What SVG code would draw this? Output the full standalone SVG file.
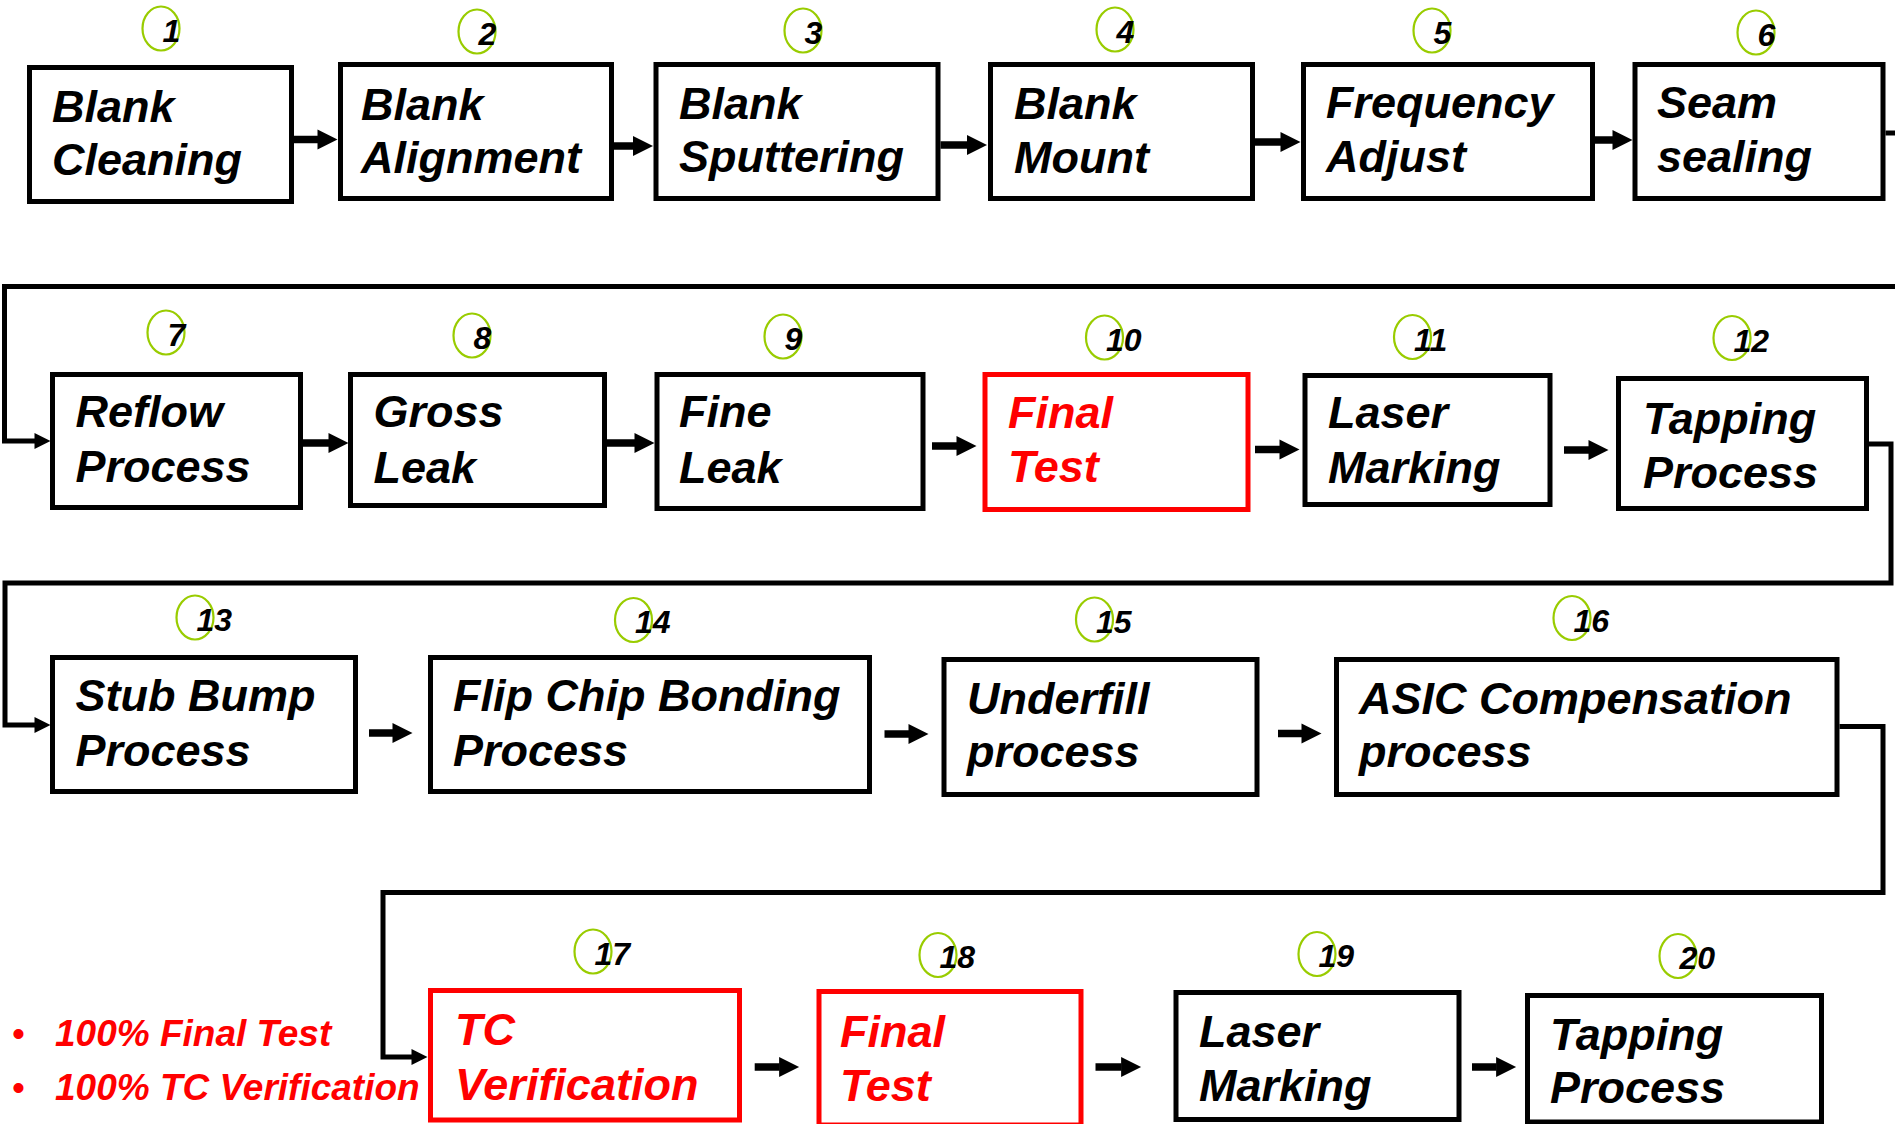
<svg xmlns="http://www.w3.org/2000/svg" width="1895" height="1124" viewBox="0 0 1895 1124">
<style>
.box{fill:#fff;stroke:#000;stroke-width:5}
.rbox{fill:#fff;stroke:#f00;stroke-width:5}
.t{font-family:"Liberation Sans",Arial,sans-serif;font-weight:bold;font-style:italic;font-size:45px;fill:#000}
.rt{fill:#f00}
.num{font-family:"Liberation Sans",Arial,sans-serif;font-weight:bold;font-style:italic;font-size:32px;fill:#000}
.ring{fill:none;stroke:#99cc00;stroke-width:2.2}
.arr{fill:none;stroke:#000;stroke-width:7.5;marker-end:url(#ah)}
.wrap{fill:none;stroke:#000;stroke-width:5}
.wrapA{fill:none;stroke:#000;stroke-width:5;marker-end:url(#wh)}
.note{font-family:"Liberation Sans",Arial,sans-serif;font-weight:bold;font-style:italic;font-size:37px;fill:#f00}
.bul{font-family:"Liberation Sans",Arial,sans-serif;font-size:37px;fill:#f00}
</style>
<defs>
<marker id="ah" markerUnits="userSpaceOnUse" markerWidth="20" markerHeight="20" refX="0.5" refY="10" orient="auto" overflow="visible"><path d="M0,0 L20,10 L0,20 z" fill="#000"/></marker>
<marker id="wh" markerUnits="userSpaceOnUse" markerWidth="16" markerHeight="16" refX="0.5" refY="8" orient="auto" overflow="visible"><path d="M0,0 L16,8 L0,16 z" fill="#000"/></marker>
</defs>
<rect width="1895" height="1124" fill="#fff"/>
<g id="connectors">
<line class="arr" x1="294" y1="139.5" x2="318" y2="139.5"/>
<line class="arr" x1="614" y1="146" x2="633.5" y2="146"/>
<line class="arr" x1="940.5" y1="145" x2="967.5" y2="145"/>
<line class="arr" x1="1255" y1="142" x2="1281" y2="142"/>
<line class="arr" x1="1595" y1="140" x2="1613" y2="140"/>
<path class="wrap" d="M1885.5 133 H1900"/>
<path class="wrapA" d="M1900 286.5 H4.5 V441 H35"/>
<line class="arr" x1="303" y1="443" x2="329" y2="443"/>
<line class="arr" x1="607" y1="443" x2="635" y2="443"/>
<line class="arr" x1="932" y1="446" x2="957" y2="446"/>
<line class="arr" x1="1255" y1="449.5" x2="1280" y2="449.5"/>
<line class="arr" x1="1564" y1="450" x2="1589" y2="450"/>
<path class="wrapA" d="M1869 444 H1891 V583 H5 V725 H35"/>
<line class="arr" x1="369" y1="733" x2="393" y2="733"/>
<line class="arr" x1="884.5" y1="734" x2="909" y2="734"/>
<line class="arr" x1="1278" y1="733.5" x2="1302" y2="733.5"/>
<path class="wrapA" d="M1839.5 726.5 H1883 V892.5 H383 V1057 H412"/>
<line class="arr" x1="754.7" y1="1067" x2="779.6" y2="1067"/>
<line class="arr" x1="1095.5" y1="1067" x2="1121.6" y2="1067"/>
<line class="arr" x1="1472" y1="1067" x2="1496.6" y2="1067"/>
</g>
<g id="n1"><rect class="box" x="29.5" y="67.5" width="262" height="134"/><text class="t" x="52" y="122">Blank</text><text class="t" x="52" y="175">Cleaning</text><ellipse class="ring" cx="161" cy="28.5" rx="18.5" ry="22"/><text class="num" x="162.5" y="42">1</text></g>
<g id="n2"><rect class="box" x="340.5" y="64.5" width="271" height="134"/><text class="t" x="361" y="120">Blank</text><text class="t" x="361" y="173">Alignment</text><ellipse class="ring" cx="477" cy="31.5" rx="18.5" ry="22"/><text class="num" x="478.5" y="45">2</text></g>
<g id="n3"><rect class="box" x="656" y="64.5" width="282" height="134"/><text class="t" x="679" y="119">Blank</text><text class="t" x="679" y="172">Sputtering</text><ellipse class="ring" cx="803" cy="30.5" rx="18.5" ry="22"/><text class="num" x="804.5" y="44">3</text></g>
<g id="n4"><rect class="box" x="990.5" y="64.5" width="262" height="134"/><text class="t" x="1014" y="119">Blank</text><text class="t" x="1014" y="173">Mount</text><ellipse class="ring" cx="1115" cy="29.5" rx="18.5" ry="22"/><text class="num" x="1116.5" y="43">4</text></g>
<g id="n5"><rect class="box" x="1303.5" y="64.5" width="289" height="134"/><text class="t" x="1326" y="118">Frequency</text><text class="t" x="1326" y="172">Adjust</text><ellipse class="ring" cx="1432" cy="30.5" rx="18.5" ry="22"/><text class="num" x="1433.5" y="44">5</text></g>
<g id="n6"><rect class="box" x="1635" y="64.5" width="248" height="134"/><text class="t" x="1657" y="118">Seam</text><text class="t" x="1657" y="172">sealing</text><ellipse class="ring" cx="1756" cy="32.5" rx="18.5" ry="22"/><text class="num" x="1757.5" y="46">6</text></g>
<g id="n7"><rect class="box" x="52.5" y="374.5" width="248" height="133"/><text class="t" x="75.5" y="427">Reflow</text><text class="t" x="75.5" y="482">Process</text><ellipse class="ring" cx="166" cy="332.5" rx="18.5" ry="22"/><text class="num" x="167.5" y="346">7</text></g>
<g id="n8"><rect class="box" x="350.5" y="374.5" width="254" height="131"/><text class="t" x="373.5" y="427">Gross</text><text class="t" x="373.5" y="483">Leak</text><ellipse class="ring" cx="472" cy="335.5" rx="18.5" ry="22"/><text class="num" x="473.5" y="349">8</text></g>
<g id="n9"><rect class="box" x="657" y="374.5" width="266" height="134"/><text class="t" x="679" y="427">Fine</text><text class="t" x="679" y="483">Leak</text><ellipse class="ring" cx="783" cy="336.5" rx="18.5" ry="22"/><text class="num" x="784.5" y="350">9</text></g>
<g id="n10"><rect class="rbox" x="985" y="374.5" width="263" height="135"/><text class="t rt" x="1008" y="428">Final</text><text class="t rt" x="1008" y="482">Test</text><ellipse class="ring" cx="1104.5" cy="337.5" rx="18.5" ry="22"/><text class="num" x="1106" y="351">10</text></g>
<g id="n11"><rect class="box" x="1305" y="375.5" width="245" height="129"/><text class="t" x="1328" y="428">Laser</text><text class="t" x="1328" y="483">Marking</text><ellipse class="ring" cx="1412.5" cy="337" rx="18.5" ry="22"/><text class="num" x="1414" y="350.5">11</text></g>
<g id="n12"><rect class="box" x="1618.5" y="378.5" width="248" height="130"/><text class="t" x="1643" y="434">Tapping</text><text class="t" x="1643" y="488">Process</text><ellipse class="ring" cx="1732" cy="338" rx="18.5" ry="22"/><text class="num" x="1733.5" y="351.5">12</text></g>
<g id="n13"><rect class="box" x="52.5" y="657.5" width="303" height="134"/><text class="t" x="75.5" y="711">Stub Bump</text><text class="t" x="75.5" y="766">Process</text><ellipse class="ring" cx="195" cy="617.5" rx="18.5" ry="22"/><text class="num" x="196.5" y="631">13</text></g>
<g id="n14"><rect class="box" x="430.5" y="657.5" width="439" height="134"/><text class="t" x="453" y="711">Flip Chip Bonding</text><text class="t" x="453" y="766">Process</text><ellipse class="ring" cx="633.5" cy="620" rx="18.5" ry="22"/><text class="num" x="635" y="633">14</text></g>
<g id="n15"><rect class="box" x="944" y="659.5" width="313" height="135"/><text class="t" x="967" y="714">Underfill</text><text class="t" x="967" y="767">process</text><ellipse class="ring" cx="1094.5" cy="619.5" rx="18.5" ry="22"/><text class="num" x="1096" y="633">15</text></g>
<g id="n16"><rect class="box" x="1336.5" y="659.5" width="500.5" height="135"/><text class="t" x="1359" y="714">ASIC Compensation</text><text class="t" x="1359" y="767">process</text><ellipse class="ring" cx="1572" cy="618" rx="18.5" ry="22"/><text class="num" x="1573.5" y="631.5">16</text></g>
<g id="n17"><rect class="rbox" x="430.5" y="990.5" width="309" height="129.5"/><text class="t rt" x="455" y="1045">TC</text><text class="t rt" x="455" y="1100">Verification</text><ellipse class="ring" cx="593" cy="951.5" rx="18.5" ry="22"/><text class="num" x="594.5" y="965">17</text></g>
<g id="n18"><rect class="rbox" x="819" y="991.5" width="262" height="133.5"/><text class="t rt" x="840" y="1046.5">Final</text><text class="t rt" x="840" y="1100.5">Test</text><ellipse class="ring" cx="938" cy="955" rx="18.5" ry="22"/><text class="num" x="939.5" y="968">18</text></g>
<g id="n19"><rect class="box" x="1176" y="992.5" width="283" height="127"/><text class="t" x="1199" y="1046.5">Laser</text><text class="t" x="1199" y="1100.5">Marking</text><ellipse class="ring" cx="1317" cy="954" rx="18.5" ry="22"/><text class="num" x="1318.5" y="967">19</text></g>
<g id="n20"><rect class="box" x="1527.5" y="995.5" width="294" height="126.5"/><text class="t" x="1550" y="1050">Tapping</text><text class="t" x="1550" y="1103">Process</text><ellipse class="ring" cx="1678" cy="956" rx="18.5" ry="22"/><text class="num" x="1679.5" y="969">20</text></g>
<g id="notes">
<text class="bul" x="12" y="1046">•</text><text class="note" x="55" y="1046">100% Final Test</text>
<text class="bul" x="12" y="1100">•</text><text class="note" x="55" y="1100">100% TC Verification</text>
</g>
</svg>
